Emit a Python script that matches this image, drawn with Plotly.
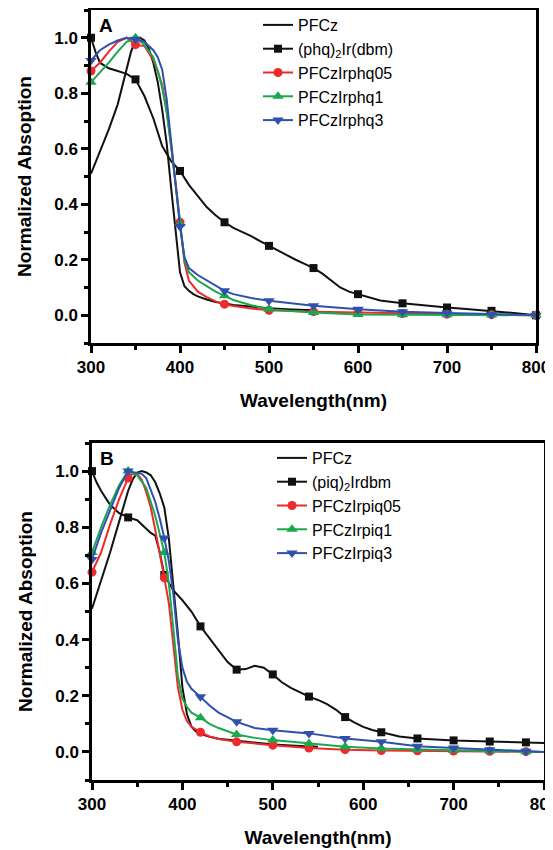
import plotly.graph_objects as go

# ---------------- Panel A data ----------------
A_pfcz_wl = [300,310,320,330,340,345,350,355,360,365,370,375,380,385,390,395,400,405,410,415,420,430,440,460,480,500,525,550]
A_pfcz = [0.51,0.59,0.67,0.76,0.89,0.95,0.99,1.00,0.99,0.96,0.91,0.84,0.74,0.62,0.46,0.30,0.155,0.105,0.088,0.076,0.068,0.057,0.048,0.037,0.03,0.025,0.021,0.018]

A_phq_wl = [300,305,310,320,330,340,350,360,370,380,390,400,410,420,430,440,450,460,470,480,490,500,510,520,530,540,550,560,570,580,590,600,610,625,650,675,700,725,750,775,800]
A_phq = [1.0,0.95,0.91,0.89,0.88,0.87,0.85,0.79,0.71,0.61,0.555,0.52,0.47,0.43,0.39,0.36,0.335,0.315,0.30,0.285,0.267,0.25,0.233,0.215,0.2,0.185,0.17,0.15,0.125,0.1,0.085,0.076,0.066,0.053,0.043,0.035,0.028,0.022,0.016,0.008,0.0]

A_05_wl = [300,310,320,330,340,350,360,370,375,380,385,390,395,400,405,410,420,430,440,450,460,480,500,550,600,650,700,750,800]
A_05 = [0.88,0.91,0.95,0.985,1.0,0.975,0.97,0.92,0.88,0.83,0.74,0.62,0.48,0.335,0.19,0.125,0.085,0.065,0.05,0.04,0.033,0.024,0.018,0.013,0.01,0.006,0.004,0.002,0.0]

A_1_wl = [300,310,320,330,340,350,360,370,375,380,385,390,395,400,405,410,420,430,440,450,460,480,500,525,550,600,650,700,750,800]
A_1 = [0.84,0.875,0.91,0.95,0.985,1.0,0.975,0.93,0.88,0.82,0.73,0.61,0.47,0.33,0.2,0.155,0.125,0.105,0.085,0.07,0.055,0.036,0.022,0.015,0.01,0.003,0.002,0.002,0.001,0.0]

A_3_wl = [300,310,320,330,340,350,360,370,375,380,385,390,395,400,405,410,420,430,440,450,460,480,500,525,550,600,650,700,750,800]
A_3 = [0.918,0.955,0.975,0.99,1.0,0.995,0.985,0.955,0.93,0.885,0.78,0.63,0.48,0.32,0.21,0.17,0.145,0.125,0.105,0.088,0.076,0.062,0.052,0.043,0.034,0.022,0.013,0.008,0.003,0.0]

A_marker_wl = [300,350,400,450,500,550,600,650,700,750,800]

# ---------------- Panel B data ----------------
B_pfcz_wl = [300,310,320,330,340,345,350,355,360,365,370,375,380,385,390,395,400,405,410,415,420,430,440,460,480,500,525,550]
B_pfcz = [0.51,0.61,0.71,0.82,0.93,0.97,0.995,1.0,0.995,0.985,0.96,0.92,0.87,0.76,0.6,0.42,0.23,0.135,0.09,0.073,0.064,0.054,0.047,0.04,0.032,0.026,0.022,0.018]

B_piq_wl = [300,305,310,320,330,340,350,360,365,370,375,380,385,390,400,410,420,430,440,450,460,470,480,490,500,510,520,530,540,550,560,570,580,590,600,610,620,640,660,680,700,740,780,800]
B_piq = [1.0,0.96,0.93,0.88,0.85,0.835,0.825,0.795,0.78,0.77,0.71,0.63,0.6,0.575,0.54,0.5,0.447,0.405,0.36,0.32,0.293,0.295,0.307,0.3,0.276,0.248,0.228,0.212,0.197,0.185,0.17,0.15,0.124,0.105,0.089,0.078,0.07,0.055,0.048,0.044,0.041,0.037,0.034,0.032]

B_05_wl = [300,310,320,330,340,345,350,355,360,365,370,375,380,385,390,395,400,405,410,420,430,440,460,480,500,540,580,620,660,700,740,780,800]
B_05 = [0.64,0.71,0.81,0.90,0.975,0.99,0.99,0.97,0.925,0.87,0.79,0.71,0.62,0.53,0.38,0.23,0.15,0.11,0.09,0.07,0.055,0.046,0.036,0.029,0.024,0.014,0.008,0.005,0.004,0.003,0.002,0.001,0.0]

B_1_wl = [300,310,320,330,340,350,360,370,380,385,390,395,400,405,410,420,430,440,460,480,500,540,580,620,660,700,740,780,800]
B_1 = [0.71,0.80,0.88,0.95,1.0,0.985,0.94,0.84,0.71,0.60,0.44,0.27,0.19,0.16,0.14,0.122,0.1,0.085,0.062,0.05,0.042,0.03,0.018,0.012,0.008,0.006,0.003,0.001,0.0]

B_3_wl = [300,310,320,330,340,350,355,360,365,370,375,380,385,390,395,400,405,410,420,430,440,460,480,500,540,580,620,660,700,740,780,800]
B_3 = [0.685,0.78,0.86,0.94,1.0,0.995,0.99,0.975,0.935,0.89,0.83,0.762,0.68,0.56,0.40,0.30,0.25,0.225,0.196,0.165,0.14,0.107,0.085,0.077,0.066,0.048,0.036,0.02,0.014,0.008,0.002,0.0]

B_marker_wl = [300,340,380,420,460,500,540,580,620,660,700,740,780]

A_names = ["PFCz", "(phq)<sub>2</sub>Ir(dbm)", "PFCzIrphq05", "PFCzIrphq1", "PFCzIrphq3"]
B_names = ["PFCz", "(piq)<sub>2</sub>Irdbm", "PFCzIrpiq05", "PFCzIrpiq1", "PFCzIrpiq3"]

x_ticks = [300, 400, 500, 600, 700, 800]
x_ticktext = ["300", "400", "500", "600", "700", "800"]
y_ticks = [0.0, 0.2, 0.4, 0.6, 0.8, 1.0]
y_ticktext = ["0.0", "0.2", "0.4", "0.6", "0.8", "1.0"]

colors = ["#111111", "#111111", "#ee2a2a", "#1aa84c", "#2f50ae"]
symbols = [None, "square", "circle", "triangle-up", "triangle-down"]
msizes = [0, 8, 9, 10, 10]

FONT = "Arial, Liberation Sans, sans-serif"
OFF = 8                      # page body margin around the figure
W, H = 553 - OFF, 850 - OFF  # figure size


def fx(p):
    return (p - OFF) / W


def fy(p):
    return 1 - (p - OFF) / H


fig = go.Figure()


def add_panel(series, names, mwl, xa, ya, legend):
    for (wl, vals), name, col, sym, ms in zip(series, names, colors, symbols, msizes):
        fig.add_trace(go.Scatter(x=wl, y=vals, mode="lines", xaxis=xa, yaxis=ya,
                                 line=dict(color=col, width=2), showlegend=False,
                                 hoverinfo="skip"))
        if sym is not None:
            mx = [w for w in wl if w in mwl]
            my = [v for w, v in zip(wl, vals) if w in mwl]
            fig.add_trace(go.Scatter(x=mx, y=my, mode="markers", xaxis=xa, yaxis=ya,
                                     marker=dict(symbol=sym, size=ms, color=col),
                                     showlegend=False, cliponaxis=False))
            fig.add_trace(go.Scatter(x=[None], y=[None], mode="lines+markers", xaxis=xa, yaxis=ya,
                                     name=name, legend=legend,
                                     line=dict(color=col, width=2),
                                     marker=dict(symbol=sym, size=ms, color=col)))
        else:
            fig.add_trace(go.Scatter(x=[None], y=[None], mode="lines", xaxis=xa, yaxis=ya,
                                     name=name, legend=legend,
                                     line=dict(color=col, width=2)))


add_panel([(A_pfcz_wl, A_pfcz), (A_phq_wl, A_phq), (A_05_wl, A_05), (A_1_wl, A_1), (A_3_wl, A_3)],
          A_names, A_marker_wl, "x", "y", "legend")
add_panel([(B_pfcz_wl, B_pfcz), (B_piq_wl, B_piq), (B_05_wl, B_05), (B_1_wl, B_1), (B_3_wl, B_3)],
          B_names, B_marker_wl, "x2", "y2", "legend2")


def xax(domain, anchor):
    return dict(domain=domain, anchor=anchor, range=[300, 800], automargin=False,
                tickvals=x_ticks, ticktext=["<b>%s</b>" % t for t in x_ticktext],
                ticklabeloverflow="allow",
                showline=True, linewidth=2.5, linecolor="black", mirror=True,
                ticks="outside", ticklen=7, tickwidth=2.5, tickcolor="black",
                minor=dict(dtick=50, tick0=300, ticks="outside", ticklen=4, tickwidth=2.5, tickcolor="black"),
                showgrid=False, zeroline=False,
                tickfont=dict(family=FONT, size=17, color="black"),
                title=dict(text="<b>Wavelength(nm)</b>", font=dict(family=FONT, size=19, color="black"),
                           standoff=18))


def yax(domain, anchor):
    return dict(domain=domain, anchor=anchor, range=[-0.1, 1.1], automargin=False,
                tickvals=y_ticks, ticktext=["<b>%s</b>" % t for t in y_ticktext],
                showline=True, linewidth=2.5, linecolor="black", mirror=True,
                ticks="outside", ticklen=7, tickwidth=2.5, tickcolor="black",
                minor=dict(tickvals=[-0.1, 0.1, 0.3, 0.5, 0.7, 0.9, 1.1], ticks="outside",
                           ticklen=4, tickwidth=2.5, tickcolor="black"),
                showgrid=False, zeroline=False,
                tickfont=dict(family=FONT, size=17, color="black"),
                title=dict(text="<b>Normalized Absoption</b>", font=dict(family=FONT, size=19, color="black"),
                           standoff=18))


fig.update_layout(
    width=W, height=H, autosize=False,
    margin=dict(l=0, r=0, t=0, b=0, autoexpand=False),
    paper_bgcolor="white", plot_bgcolor="white",
    font=dict(family=FONT, color="black"),
    xaxis=xax([fx(91), fx(536)], "y"),
    yaxis=yax([fy(343), fy(10)], "x"),
    xaxis2=xax([fx(92), fx(544)], "y2"),
    yaxis2=yax([fy(780), fy(443)], "x2"),
    legend=dict(x=fx(258), y=fy(8), xanchor="left", yanchor="top",
                bgcolor="rgba(0,0,0,0)", borderwidth=0, tracegroupgap=0,
                font=dict(family=FONT, size=16, color="black")),
    legend2=dict(x=fx(272), y=fy(441), xanchor="left", yanchor="top",
                 bgcolor="rgba(0,0,0,0)", borderwidth=0, tracegroupgap=0,
                 font=dict(family=FONT, size=16, color="black")),
    annotations=[
        dict(text="<b>A</b>", x=300, y=1.1, xref="x", yref="y", xanchor="left", yanchor="top",
             xshift=6, yshift=-3, showarrow=False, font=dict(family=FONT, size=19, color="black")),
        dict(text="<b>B</b>", x=300, y=1.1, xref="x2", yref="y2", xanchor="left", yanchor="top",
             xshift=6, yshift=-3, showarrow=False, font=dict(family=FONT, size=19, color="black")),
    ],
)

fig.write_html("out.html")
